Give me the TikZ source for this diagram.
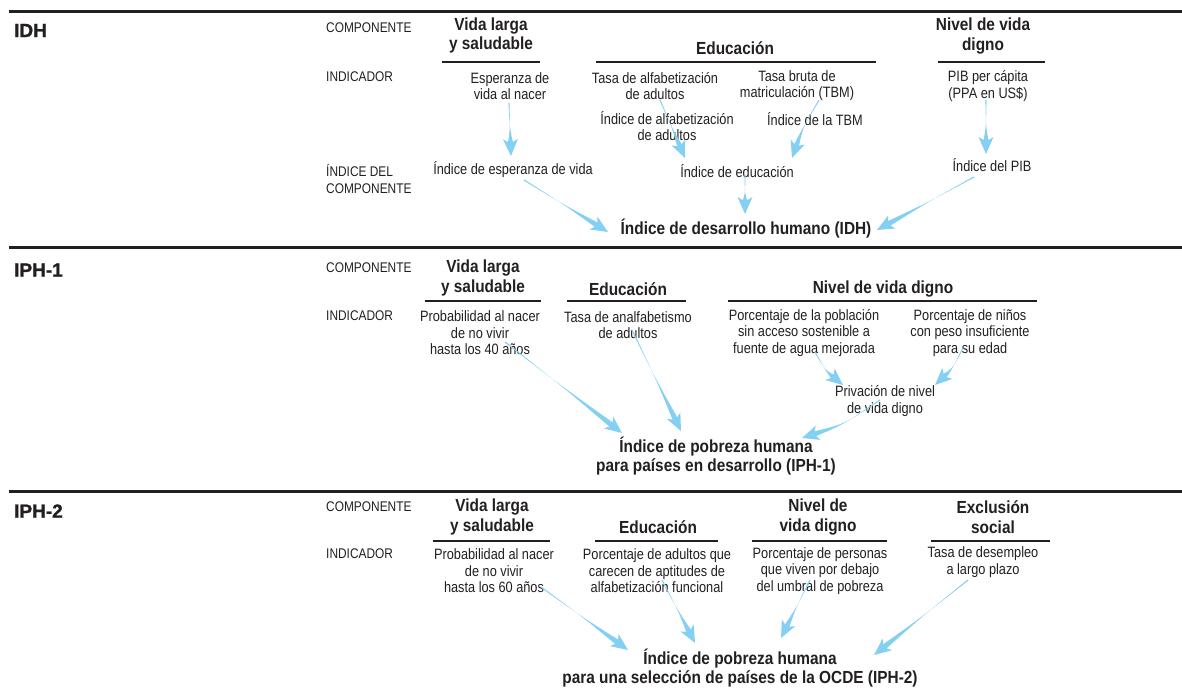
\documentclass[tikz,border=0pt]{standalone}
\usepackage{fontspec}
\setmainfont{Liberation Sans}[FakeStretch=0.85]
\newfontfamily\hdfont{Liberation Sans}[FakeStretch=0.88]
\newfontfamily\secfont{Liberation Sans}[FakeStretch=1.0,FakeBold=1.2]
\usetikzlibrary{calc}
\definecolor{arrowblue}{RGB}{132,208,243}
\definecolor{ink}{RGB}{35,31,32}
\tikzset{
  txt/.style={font=\fontsize{15}{16.5}\selectfont, align=center, inner sep=0pt, text=ink},
  hd/.style={font=\hdfont\bfseries\fontsize{17.5}{19.5}\selectfont, align=center, inner sep=0pt, text=ink},
  lab/.style={font=\fontsize{14}{17}\selectfont, align=left, anchor=west, inner sep=0pt, text=ink},
  sec/.style={font=\secfont\bfseries\fontsize{19}{20}\selectfont, anchor=west, inner sep=0pt, text=ink},
  rule/.style={line width=3pt, draw=ink},
  uline/.style={line width=1.5pt, draw=ink},
  arr/.style={fill=arrowblue},
}
% tapered arrow: #1 start, #2 tip, #3 bend
\newcommand\tarrow[3]{%
  \path (#1) coordinate (tS) (#2) coordinate (tT);
  \path ($(tS)!0.5!(tT)$) coordinate (tM);
  \path ($(tM)!#3!90:(tT)$) coordinate (tC);
  \path ($(tT)!17pt!(tC)$) coordinate (tH);
  \path ($(tT)!12.5pt!(tC)$) coordinate (tN);
  \fill[arr] ($(tS)!0.6pt!-90:(tC)$) .. controls (tC) .. ($(tN)!2.7pt!90:(tT)$) -- ($(tN)!2.7pt!-90:(tT)$) .. controls (tC) .. ($(tS)!0.6pt!90:(tC)$) -- cycle;
  \fill[arr] (tT) -- ($(tH)!7.5pt!90:(tT)$) -- (tN) -- ($(tH)!7.5pt!-90:(tT)$) -- cycle;
}
\begin{document}
\begin{tikzpicture}[x=1pt,y=-1pt]
\useasboundingbox (0,0) rectangle (1182,688);
% ---------- rules
\draw[rule] (9,11) -- (1182,11);
\draw[rule] (9,247) -- (1182,247);
\draw[rule] (9,491) -- (1182,491);

% ================= IDH
\node[sec] (s1) at (14,30.5) {IDH};
\node[lab] (c1) at (326,28) {COMPONENTE};
\node[lab] (i1) at (326,77) {INDICADOR};
\node[lab] (k1) at (326,178.5) {ÍNDICE DEL\\COMPONENTE};
\node[hd] (h1a) at (491,35.5) {Vida larga\\y saludable};
\node[hd] (h1b) at (735,48) {Educación};
\node[hd] (h1c) at (983,36) {Nivel de vida\\digno};
\draw[uline] (442,62) -- (540,62);
\draw[uline] (596,62) -- (876,62);
\draw[uline] (938,62) -- (1045,62);
\node[txt] (esp) at (510,86) {Esperanza de\\vida al nacer};
\node[txt] (taa) at (655,86) {Tasa de alfabetización\\de adultos};
\node[txt] (tbm) at (797,85.5) {Tasa bruta de\\matriculación (TBM)};
\node[txt] (pib) at (988,86) {PIB per cápita\\(PPA en US\$)};
\node[txt] (iaa) at (667,126) {Índice de alfabetización\\de adultos};
\node[txt] (itbm) at (815,119) {Índice de la TBM};
\node[txt] (iesp) at (513,170) {Índice de esperanza de vida};
\node[txt] (iedu) at (737,171) {Índice de educación};
\node[txt] (ipib) at (992,165) {Índice del PIB};
\node[hd] (idh) at (746,229) {Índice de desarrollo humano (IDH)};

\tarrow{$(esp.center)+(-1,17)$}{$(iesp.center)+(-2,-14)$}{0pt}
\tarrow{$(taa.center)+(5,14)$}{$(iedu.center)+(-52,-13)$}{0pt}
\tarrow{$(tbm.center)+(22,14.5)$}{$(iedu.center)+(55,-13)$}{-3pt}
\tarrow{$(iedu.center)+(8,4)$}{$(idh.center)+(-1,-15)$}{0pt}
\tarrow{$(pib.center)+(-2,14)$}{$(ipib.center)+(-6,-11)$}{0pt}
\tarrow{$(ipib.center)+(-18,12)$}{$(idh.center)+(131,1)$}{0pt}
\tarrow{$(iesp.center)+(11,10)$}{$(idh.center)+(-138,3)$}{0pt}

% ================= IPH-1
\node[sec] (s2) at (14,270) {IPH-1};
\node[lab] (c2) at (326,268) {COMPONENTE};
\node[lab] (i2) at (326,316) {INDICADOR};
\node[hd] (h2a) at (483,278) {Vida larga\\y saludable};
\node[hd] (h2b) at (628,289) {Educación};
\node[hd] (h2c) at (883,289) {Nivel de vida digno};
\draw[uline] (425,301) -- (541,301);
\draw[uline] (567,301) -- (686,301);
\draw[uline] (728,301) -- (1037,301);
\node[txt] (prob40) at (480,333) {Probabilidad al nacer\\de no vivir\\hasta los 40 años};
\node[txt] (analf) at (628,325) {Tasa de analfabetismo\\de adultos};
\node[txt] (pobl) at (804,333) {Porcentaje de la población\\sin acceso sostenible a\\fuente de agua mejorada};
\node[txt] (ninos) at (970,333) {Porcentaje de niños\\con peso insuficiente\\para su edad};
\node[txt] (priv) at (885,401) {Privación de nivel\\de vida digno};
\node[hd] (iph1) at (716,456) {Índice de pobreza humana\\para países en desarrollo (IPH-1)};

\tarrow{$(prob40.center)+(25,9)$}{$(iph1.center)+(-94,-23)$}{0pt}
\tarrow{$(analf.center)+(4,5)$}{$(iph1.center)+(-35,-25)$}{0pt}
\tarrow{$(pobl.center)+(11,19)$}{$(priv.center)+(-42,-16)$}{-4pt}
\tarrow{$(ninos.center)+(-7,15)$}{$(priv.center)+(50,-16)$}{4pt}
\tarrow{$(priv.center)+(-5,-1)$}{$(iph1.center)+(86,-18)$}{6pt}

% ================= IPH-2
\node[sec] (s3) at (14,511) {IPH-2};
\node[lab] (c3) at (326,507) {COMPONENTE};
\node[lab] (i3) at (326,554) {INDICADOR};
\node[hd] (h3a) at (492,517) {Vida larga\\y saludable};
\node[hd] (h3b) at (658,527) {Educación};
\node[hd] (h3c) at (818,517) {Nivel de\\vida digno};
\node[hd] (h3d) at (993,517) {Exclusión\\social};
\draw[uline] (433,541) -- (550,541);
\draw[uline] (595,541) -- (718,541);
\draw[uline] (752,541) -- (887,541);
\draw[uline] (931,541) -- (1050,541);
\node[txt] (prob60) at (494,571) {Probabilidad al nacer\\de no vivir\\hasta los 60 años};
\node[txt] (adult) at (657,571) {Porcentaje de adultos que\\carecen de aptitudes de\\alfabetización funcional};
\node[txt] (pers) at (820,571) {Porcentaje de personas\\que viven por debajo\\del umbral de pobreza};
\node[txt] (desem) at (983,562) {Tasa de desempleo\\a largo plazo};
\node[hd] (iph2) at (740,668) {Índice de pobreza humana\\para una selección de países de la OCDE (IPH-2)};

\tarrow{$(prob60.center)+(47,16)$}{$(iph2.center)+(-112,-18)$}{0pt}
\tarrow{$(adult.center)+(5,9)$}{$(iph2.center)+(-45,-25)$}{0pt}
\tarrow{$(pers.center)+(-10,9)$}{$(iph2.center)+(41,-30)$}{0pt}
\tarrow{$(desem.center)+(-15,18)$}{$(iph2.center)+(134,-13)$}{0pt}
\end{tikzpicture}
\end{document}
